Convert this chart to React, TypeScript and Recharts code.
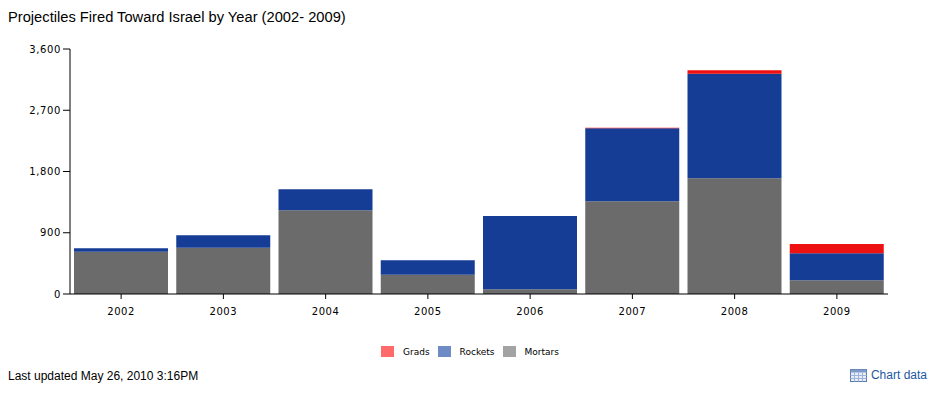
import React from "react";
import { Bar, BarChart, XAxis, YAxis } from "recharts";

const YEARS = ["2002", "2003", "2004", "2005", "2006", "2007", "2008", "2009"];
const MORTARS = [621, 680, 1230, 284, 69, 1362, 1700, 201];
const ROCKETS = [50, 182, 308, 211, 1077, 1075, 1536, 397];
const GRADS = [0, 0, 0, 0, 0, 6, 50, 136];
const Y_TICKS = [0, 900, 1800, 2700, 3600];

const SERIES = [
  { key: "grads", name: "Grads", fill: "#ee1111", swatch: "#ff6b6b" },
  { key: "rockets", name: "Rockets", fill: "#153d95", swatch: "#6f8bc5" },
  { key: "mortars", name: "Mortars", fill: "#6b6b6b", swatch: "#a3a3a3" },
];

const data = YEARS.map((year, i) => ({
  year,
  mortars: MORTARS[i],
  rockets: ROCKETS[i],
  grads: GRADS[i],
}));

const tickFont = { fontSize: 10, fill: "#000", fontFamily: "DejaVu Sans", letterSpacing: 0.6 };

function TableIcon() {
  return (
    <svg width="17" height="13" viewBox="0 0 17 13" style={{ marginRight: 4 }}>
      <rect x="0.5" y="0.5" width="16" height="12" fill="#e8eef8" stroke="#5a7bb0" />
      <rect x="0.5" y="0.5" width="16" height="3" fill="#7d9ac8" />
      {[4.5, 8.5, 12.5].map((x) => (
        <line key={x} x1={x} y1="3.5" x2={x} y2="12.5" stroke="#9fb3d6" />
      ))}
      {[6.5, 9.5].map((y) => (
        <line key={y} x1="0.5" y1={y} x2="16.5" y2={y} stroke="#9fb3d6" />
      ))}
    </svg>
  );
}

export default function App() {
  return (
    <div
      style={{
        position: "absolute",
        left: 0,
        top: 0,
        width: 934,
        height: 399,
        background: "#fff",
        fontFamily: "Liberation Sans, Arial, sans-serif",
      }}
    >
      <div style={{ position: "absolute", left: 8, top: 9, fontSize: 14.7, color: "#000" }}>
        Projectiles Fired Toward Israel by Year (2002- 2009)
      </div>

      <div style={{ position: "absolute", left: 0, top: 0 }}>
        <BarChart
          width={934}
          height={324}
          data={data}
          margin={{ top: 49, right: 46, bottom: 0, left: 0 }}
          barCategoryGap={4}
        >
          <XAxis
            dataKey="year"
            height={30}
            tick={{ ...tickFont, dy: 7 }}
            tickLine={{ stroke: "#000" }}
            axisLine={{ stroke: "#000" }}
            tickSize={5}
          />
          <YAxis
            width={70}
            domain={[0, 3600]}
            ticks={Y_TICKS}
            tick={tickFont}
            tickLine={{ stroke: "#000" }}
            axisLine={{ stroke: "#000" }}
            tickSize={7}
            tickFormatter={(v) => Number(v).toLocaleString("en-US")}
          />
          <Bar dataKey="mortars" name="Mortars" stackId="a" fill="#6b6b6b" isAnimationActive={false} />
          <Bar dataKey="rockets" name="Rockets" stackId="a" fill="#153d95" isAnimationActive={false} />
          <Bar dataKey="grads" name="Grads" stackId="a" fill="#ee1111" isAnimationActive={false} />
        </BarChart>
      </div>

      <div
        style={{
          position: "absolute",
          left: 0,
          width: 934,
          top: 346,
          display: "flex",
          justifyContent: "center",
          fontFamily: "DejaVu Sans",
          fontSize: 9,
          color: "#000",
          paddingLeft: 3,
        }}
      >
        {SERIES.map((s) => (
          <div key={s.key} style={{ display: "flex", alignItems: "center", margin: "0 4px" }}>
            <span
              style={{ width: 13, height: 11, background: s.swatch, display: "inline-block", marginRight: 9 }}
            />
            <span>{s.name}</span>
          </div>
        ))}
      </div>

      <div style={{ position: "absolute", left: 8, top: 369, fontSize: 12, color: "#000" }}>
        Last updated May 26, 2010 3:16PM
      </div>
      <div
        style={{
          position: "absolute",
          right: 7,
          top: 368,
          fontSize: 12,
          color: "#1d57a0",
          display: "flex",
          alignItems: "center",
        }}
      >
        <TableIcon />
        Chart data
      </div>
    </div>
  );
}
